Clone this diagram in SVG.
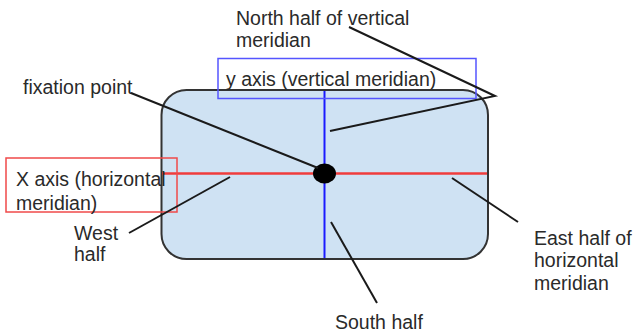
<svg xmlns="http://www.w3.org/2000/svg" width="633" height="336" viewBox="0 0 633 336">
<style>
  text { font-family: "Liberation Sans", Arial, sans-serif; font-size: 19.5px; fill: #2a2a2a; }
  .lead { stroke: #1a1a1a; stroke-width: 2; fill: none; }
</style>
<rect x="0" y="0" width="633" height="336" fill="#ffffff"/>
<g id="field">
  <rect x="161.5" y="90" width="326.5" height="169" rx="25" ry="25" fill="#cfe2f3" stroke="#333333" stroke-width="2"/>
</g>
<g id="x-axis">
  <line x1="162" y1="173.5" x2="487" y2="173.5" stroke="#f03c3c" stroke-width="2.5"/>
  <rect x="6" y="158" width="171" height="54" fill="none" stroke="#f04a4a" stroke-width="1.5"/>
  <text x="16" y="186">X axis (horizontal</text>
  <text x="16" y="210">meridian)</text>
</g>
<g id="y-axis">
  <line x1="324.5" y1="91" x2="324.5" y2="258" stroke="#1a1aff" stroke-width="2"/>
  <rect x="218" y="58.5" width="258" height="40" fill="none" stroke="#5555ff" stroke-width="1.5"/>
  <text x="226" y="86">y axis (vertical meridian)</text>
</g>
<g id="fixation-point">
  <ellipse cx="324.5" cy="173.5" rx="11.5" ry="10" fill="#000000"/>
  <text x="23" y="94">fixation point</text>
</g>
<g id="north-half">
  <text x="236" y="25">North half of vertical</text>
  <text x="236" y="47">meridian</text>
</g>
<g id="west-half">
  <text x="74" y="240">West</text>
  <text x="74" y="261">half</text>
</g>
<g id="east-half">
  <text x="534" y="245">East half of</text>
  <text x="534" y="267">horizontal</text>
  <text x="534" y="290">meridian</text>
</g>
<g id="south-half">
  <text x="335" y="329">South half</text>
</g>
<g id="connectors">
  <polyline class="lead" points="349,27 495,96 330,131"/>
  <line class="lead" x1="131" y1="93" x2="318" y2="168"/>
  <line class="lead" x1="129" y1="233" x2="230" y2="177"/>
  <line class="lead" x1="452" y1="178" x2="518" y2="222"/>
  <line class="lead" x1="331" y1="222" x2="377" y2="303"/>
</g>
</svg>
